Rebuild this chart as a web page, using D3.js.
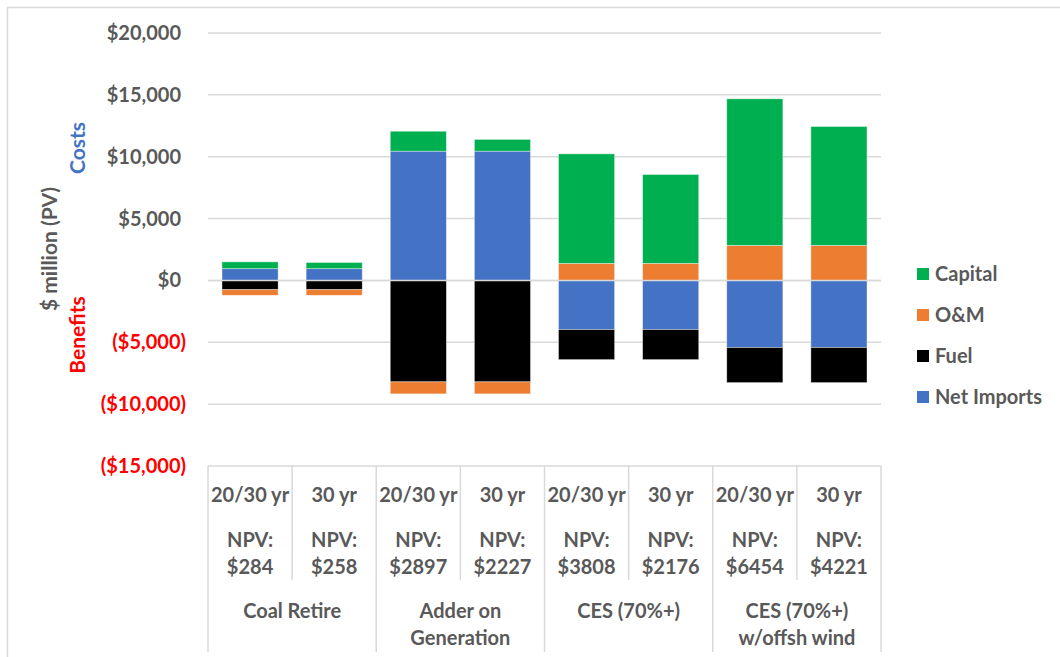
<!DOCTYPE html>
<html>
<head>
<meta charset="utf-8">
<script src="https://cdn.jsdelivr.net/npm/d3@7"></script>
<style>
  html, body { margin: 0; padding: 0; background: #fff; }
  svg { display: block; }
  text { font-family: Lato, "Open Sans", sans-serif; font-weight: 700; }
</style>
</head>
<body>
<svg id="chart" width="1060" height="657"></svg>
<script>
// Scenario categories (two-level axis)
const scenarios = ["Coal Retire", "Adder on\nGeneration", "CES (70%+)", "CES (70%+)\nw/offsh wind"];
const horizons = ["20/30 yr", "30 yr", "20/30 yr", "30 yr", "20/30 yr", "30 yr", "20/30 yr", "30 yr"];
const npv = ["$284", "$258", "$2897", "$2227", "$3808", "$2176", "$6454", "$4221"];

// Series values, $ million (PV); positive = costs, negative = benefits
const netImports = [950, 950, 10450, 10450, -3970, -3970, -5420, -5420];
const fuel = [-750, -750, -8200, -8200, -2430, -2430, -2840, -2840];
const om = [-450, -450, -970, -970, 1380, 1380, 2830, 2830];
const capital = [550, 500, 1610, 950, 8850, 7180, 11850, 9610];

const seriesNames = ["Net Imports", "Fuel", "O&M", "Capital"];
const seriesColors = ["#4472C4", "#000000", "#ED7D31", "#00B050"];

const yTicks = [-15000, -10000, -5000, 0, 5000, 10000, 15000, 20000];

const rows = horizons.map((h, i) => ({
  key: i,
  "Net Imports": netImports[i],
  "Fuel": fuel[i],
  "O&M": om[i],
  "Capital": capital[i]
}));

const svg = d3.select("#chart");
const plotLeft = 208, plotRight = 881, plotTop = 33, plotBottom = 466;
const fs = 20;

// outer chart border
svg.append("rect").attr("x", 7.5).attr("y", 7.5).attr("width", 1100).attr("height", 700)
  .attr("fill", "none").attr("stroke", "#D9D9D9").attr("stroke-width", 1.5);

const x = d3.scaleBand().domain(d3.range(horizons.length)).range([plotLeft, plotRight]).paddingInner(0.333).paddingOuter(0.1665);
const y = d3.scaleLinear().domain([-15000, 20000]).range([plotBottom, plotTop]);

// gridlines
svg.append("g").selectAll("line").data(yTicks.filter(t => t !== -15000)).join("line")
  .attr("x1", plotLeft).attr("x2", plotRight)
  .attr("y1", d => y(d)).attr("y2", d => y(d))
  .attr("stroke", "#D9D9D9").attr("stroke-width", 1.5);

// y tick labels
const fmt = d3.format(",");
svg.append("g").selectAll("text").data(yTicks).join("text")
  .attr("x", d => d < 0 ? 186 : 181)
  .attr("y", d => y(d))
  .attr("dy", "0.35em")
  .attr("text-anchor", "end")
  .attr("font-size", fs)
  .attr("fill", d => d < 0 ? "#FF0000" : "#595959")
  .text(d => d < 0 ? "($" + fmt(-d) + ")" : "$" + fmt(d));

// stacked bars
const stack = d3.stack().keys(seriesNames).offset(d3.stackOffsetDiverging);
const stacked = stack(rows);
svg.append("g").selectAll("g").data(stacked).join("g")
  .attr("fill", (d, i) => seriesColors[i])
  .selectAll("rect").data(d => d).join("rect")
  .attr("x", d => x(d.data.key))
  .attr("width", x.bandwidth())
  .attr("y", d => y(Math.max(d[0], d[1])))
  .attr("height", d => Math.abs(y(d[0]) - y(d[1])))
  .attr("stroke", "#ffffff").attr("stroke-opacity", 0.5).attr("stroke-width", 0.75);

// zero line on top
svg.append("line").attr("x1", plotLeft).attr("x2", plotRight).attr("y1", y(0)).attr("y2", y(0))
  .attr("stroke", "#D9D9D9").attr("stroke-width", 1.5);

// category axis table
const step = x.step();
const axisG = svg.append("g").attr("stroke", "#D9D9D9").attr("stroke-width", 1.5);
axisG.append("line").attr("x1", plotLeft).attr("x2", plotRight).attr("y1", plotBottom).attr("y2", plotBottom);
for (let i = 0; i <= horizons.length; i++) {
  const xx = plotLeft + i * step;
  axisG.append("line").attr("x1", xx).attr("x2", xx).attr("y1", plotBottom)
    .attr("y2", i % 2 === 0 ? 652 : 580);
}

const lab = svg.append("g").attr("fill", "#595959").attr("font-size", fs).attr("text-anchor", "middle");
horizons.forEach((h, i) => {
  const cx = plotLeft + (i + 0.5) * step;
  lab.append("text").attr("x", cx).attr("y", 495).attr("dy", "0.35em").text(h);
  lab.append("text").attr("x", cx).attr("y", 540).attr("dy", "0.35em").text("NPV:");
  lab.append("text").attr("x", cx).attr("y", 567).attr("dy", "0.35em").text(npv[i]);
});
scenarios.forEach((s, i) => {
  const cx = plotLeft + (2 * i + 1) * step;
  s.split("\n").forEach((line, j) => {
    lab.append("text").attr("x", cx).attr("y", 611 + j * 27).attr("dy", "0.35em").text(line);
  });
});

// y axis titles
const yt = svg.append("g").attr("font-size", 21).attr("text-anchor", "middle");
yt.append("text").attr("transform", "translate(50,249) rotate(-90)").attr("dy", "0.35em")
  .attr("fill", "#595959").text("$ million (PV)");
yt.append("text").attr("transform", "translate(78,148) rotate(-90)").attr("dy", "0.35em")
  .attr("fill", "#4472C4").text("Costs");
yt.append("text").attr("transform", "translate(78,335) rotate(-90)").attr("dy", "0.35em")
  .attr("fill", "#FF0000").text("Benefits");

// legend (reverse of stack order)
const legendItems = seriesNames.map((n, i) => ({ name: n, color: seriesColors[i] })).reverse();
const legendY = d3.scalePoint().domain(legendItems.map(d => d.name)).range([274, 397]);
const lg = svg.append("g").selectAll("g").data(legendItems).join("g")
  .attr("transform", d => `translate(917,${legendY(d.name)})`);
lg.append("rect").attr("x", 0).attr("y", -6).attr("width", 12).attr("height", 12).attr("fill", d => d.color);
lg.append("text").attr("x", 18).attr("dy", "0.35em").attr("font-size", fs).attr("fill", "#595959").text(d => d.name);
</script>
</body>
</html>
